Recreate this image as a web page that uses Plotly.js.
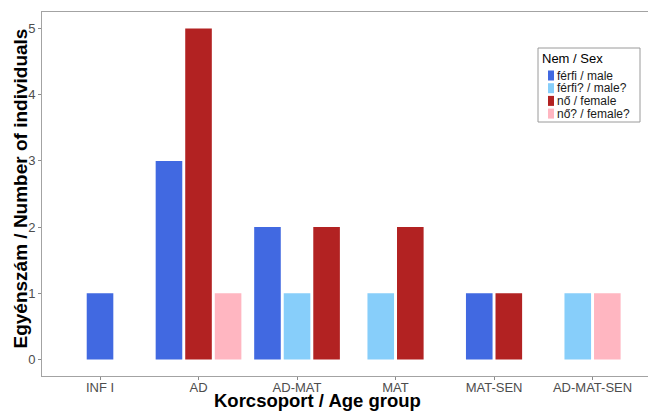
<!DOCTYPE html>
<html>
<head>
<meta charset="utf-8">
<script src="https://cdn.plot.ly/plotly-3.0.1.min.js"></script>
<style>html,body{margin:0;padding:0;background:#fff;}#chart{width:648px;height:412px;}</style>
</head>
<body>
<div id="chart"></div>
<script>
// ---- data ----
var categories = ["INF I", "AD", "AD-MAT", "MAT", "MAT-SEN", "AD-MAT-SEN"];
var seriesNames = ["férfi / male", "férfi? / male?", "nő / female", "nő? / female?"];
var male      = [1, 3, 2, 0, 1, 0];
var maleQ     = [0, 0, 1, 1, 0, 1];
var female    = [0, 5, 2, 2, 1, 0];
var femaleQ   = [0, 1, 0, 0, 0, 1];
var seriesColors = ["#4169E1", "#87CEFA", "#B22222", "#FFB6C1"];
var legendTitle = "Nem / Sex";
var xTitle = "Korcsoport / Age group";
var yTitle = "Egyénszám / Number of individuals";

var allSeries = [male, maleQ, female, femaleQ];

// dodge2-like placement (preserve single): equal width bars, centered per group
var groupWidth = 0.9, maxBars = 3, slot = groupWidth / maxBars, pad = 0.1;
var traces = allSeries.map(function (vals, s) {
  var xs = [], ys = [], offs = [], ws = [];
  vals.forEach(function (v, c) {
    if (!v) return;
    var present = allSeries.map(function (a) { return a[c] > 0; });
    var n = present.filter(Boolean).length;
    var idx = present.slice(0, s).filter(Boolean).length;
    xs.push(categories[c]); ys.push(v);
    offs.push(-n * slot / 2 + idx * slot + slot * pad / 2);
    ws.push(slot * (1 - pad));
  });
  return {type: "bar", name: seriesNames[s], x: xs, y: ys, offset: offs, width: ws,
          marker: {color: seriesColors[s], line: {width: 0}}, showlegend: false,
          hovertemplate: "%{x}: %{y}<extra>" + seriesNames[s] + "</extra>"};
});

// plot geometry (px)
var W = 648, H = 412, L = 42, R = 0, T = 12, B = 36;
var pw = W - L - R, ph = H - T - B;
function px2x(p) { return (p - L) / pw; }
function py2y(p) { return (H - B - p) / ph; }

var lineCol = "#a3a3a3";
var fam = "Liberation Sans, Arial, sans-serif";
var shapes = [];
var annotations = [];

// axis titles (placed as in the reference)
annotations.push({xref: "paper", yref: "paper", x: px2x(317), y: py2y(400.5), xanchor: "center", yanchor: "middle",
  borderpad: 0, text: "<b>" + xTitle + "</b>", showarrow: false, font: {family: fam, size: 18.5, color: "#000"}});
annotations.push({xref: "paper", yref: "paper", x: px2x(19.5), y: py2y(189), xanchor: "center", yanchor: "middle",
  borderpad: 0, textangle: -90, text: "<b>" + yTitle + "</b>", showarrow: false, font: {family: fam, size: 19, color: "#000"}});

// custom compact legend
var lgX0 = 538, lgX1 = 640, lgY0 = 48, lgY1 = 122;
shapes.push({type: "rect", xref: "paper", yref: "paper", x0: px2x(lgX0), x1: px2x(lgX1), y0: py2y(lgY0), y1: py2y(lgY1),
  line: {color: "#9a9a9a", width: 1}, fillcolor: "#ffffff"});
annotations.push({xref: "paper", yref: "paper", x: px2x(lgX0 + 3), y: py2y(59), xanchor: "left", yanchor: "middle",
  borderpad: 0, text: legendTitle, showarrow: false, font: {family: fam, size: 13, color: "#000"}});
seriesNames.forEach(function (nm, i) {
  var cy = 75.5 + i * 12.7;
  shapes.push({type: "rect", xref: "paper", yref: "paper", x0: px2x(548), x1: px2x(554), y0: py2y(cy - 5), y1: py2y(cy + 5),
    line: {width: 0}, fillcolor: seriesColors[i]});
  annotations.push({xref: "paper", yref: "paper", x: px2x(556), y: py2y(cy), xanchor: "left", yanchor: "middle",
    borderpad: 0, text: nm, showarrow: false, font: {family: fam, size: 12, color: "#1a1a1a"}});
});

var layout = {
  width: W, height: H,
  margin: {l: L, r: R, t: T, b: B, pad: 0},
  paper_bgcolor: "#fff", plot_bgcolor: "#fff",
  barmode: "overlay",
  font: {family: fam, color: "#4d4d4d", size: 13},
  xaxis: {type: "category", categoryorder: "array", categoryarray: categories, range: [-0.589, 5.563],
    showgrid: false, zeroline: false, showline: true, mirror: true, linecolor: lineCol, linewidth: 1,
    ticks: "outside", ticklen: 3, tickcolor: "#8a8a8a", ticklabelstandoff: -4,
    tickfont: {family: fam, size: 13, color: "#4d4d4d"}},
  yaxis: {range: [-0.25, 5.25], tickvals: [0, 1, 2, 3, 4, 5], showgrid: false, zeroline: false,
    showline: true, linecolor: lineCol, linewidth: 1, ticks: "outside", ticklen: 3, tickcolor: "#8a8a8a",
    tickfont: {family: fam, size: 13, color: "#4d4d4d"}},
  shapes: shapes,
  annotations: annotations
};

Plotly.newPlot("chart", traces, layout, {displayModeBar: false, staticPlot: true});
</script>
</body>
</html>
